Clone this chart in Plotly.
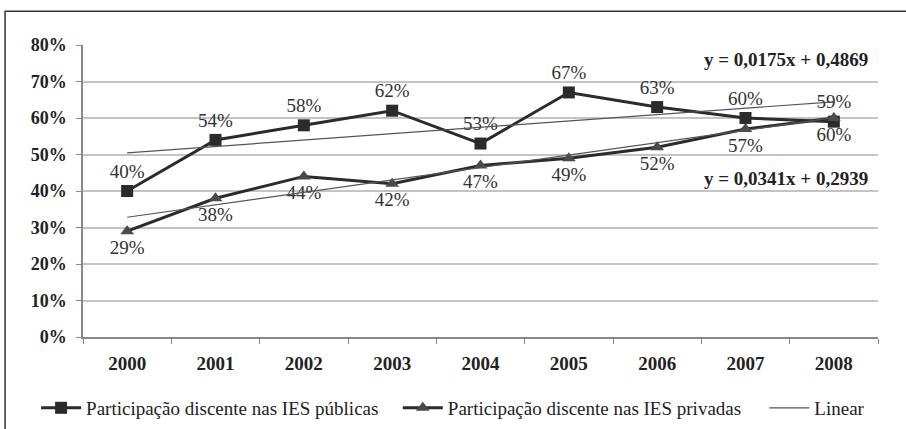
import plotly.graph_objects as go

years = ["2000", "2001", "2002", "2003", "2004", "2005", "2006", "2007", "2008"]
publicas = [40, 54, 58, 62, 53, 67, 63, 60, 59]
privadas = [29, 38, 44, 42, 47, 49, 52, 57, 60]
y_ticks = [0, 10, 20, 30, 40, 50, 60, 70, 80]
y_tick_labels = ["0%", "10%", "20%", "30%", "40%", "50%", "60%", "70%", "80%"]
# linear trend equations (x = 1..9)
trend_pub = [0.0175, 0.4869]
trend_priv = [0.0341, 0.2939]
eq_pub = "y = 0,0175x + 0,4869"
eq_priv = "y = 0,0341x + 0,2939"

serif = "Liberation Serif"
line_col = "#2b2b2b"

def trend(c):
    return [100 * (c[0] * (i + 1) + c[1]) for i in range(len(years))]

fig = go.Figure()
fig.add_trace(go.Scatter(
    x=years, y=publicas, name="Participação discente nas IES públicas", legend="legend",
    mode="lines+markers+text", text=[f"{v}%" for v in publicas], textposition="top center",
    textfont=dict(family=serif, size=19, color="#333"),
    line=dict(color=line_col, width=3), showlegend=True,
    marker=dict(symbol="square", size=12, color="#2b2b2b")))
fig.add_trace(go.Scatter(
    x=years, y=privadas, name="Participação discente nas IES privadas", legend="legend2",
    mode="lines+markers+text", text=[f"{v}%" for v in privadas], textposition="bottom center",
    textfont=dict(family=serif, size=19, color="#333"),
    line=dict(color=line_col, width=3), showlegend=True,
    marker=dict(symbol="triangle-up", size=12, color="#4a4a4a")))
fig.add_trace(go.Scatter(
    x=years, y=trend(trend_pub), name="Linear", mode="lines", legendgroup="lin", legend="legend3",
    line=dict(color="#555", width=1.2), showlegend=True))
fig.add_trace(go.Scatter(
    x=years, y=trend(trend_priv), name="Linear", mode="lines", legendgroup="lin", legend="legend3",
    line=dict(color="#555", width=1.2), showlegend=False))

fig.add_annotation(x=0.99, xref="paper", xanchor="right", y=76, yref="y", text=eq_pub,
                   showarrow=False, font=dict(family=serif, size=19, color="#222", weight="bold"))
fig.add_annotation(x=0.99, xref="paper", xanchor="right", y=43.5, yref="y", text=eq_priv,
                   showarrow=False, font=dict(family=serif, size=19, color="#222", weight="bold"))

# outer frame
fig.add_shape(type="rect", xref="paper", yref="paper", x0=-0.098, x1=1.2, y0=-0.5, y1=1.116,
              line=dict(color="#333", width=1.5), fillcolor="rgba(0,0,0,0)", layer="below")

leg_common = dict(orientation="h", xanchor="left", y=-0.243, yanchor="middle", itemwidth=40,
                  font=dict(family=serif, size=19, color="#222"), bgcolor="rgba(0,0,0,0)")
fig.update_layout(
    width=906, height=429, showlegend=True,
    margin=dict(l=83, r=28, t=45, b=92, autoexpand=False),
    paper_bgcolor="white", plot_bgcolor="white",
    font=dict(family=serif, color="#222"),
    legend=dict(x=-0.059, **leg_common),
    legend2=dict(x=0.396, **leg_common),
    legend3=dict(x=0.857, **leg_common),
)
fig.update_xaxes(type="category", range=[-0.5, 8.5], showgrid=False, automargin=False,
                 showline=True, linecolor="#888", linewidth=2,
                 ticks="outside", ticklen=5, tickcolor="#888", tickson="boundaries",
                 ticklabelstandoff=8,
                 tickfont=dict(family=serif, size=19, color="#222", weight="bold"))
fig.update_yaxes(range=[0, 80], tickvals=y_ticks, ticktext=y_tick_labels, automargin=False,
                 showgrid=True, gridcolor="#c4c4c4", gridwidth=1.5,
                 showline=True, linecolor="#888", linewidth=1.5,
                 ticks="outside", ticklen=5, tickcolor="#888", ticklabelstandoff=6,
                 tickfont=dict(family=serif, size=18, color="#222", weight="bold"),
                 zeroline=False)

fig.write_html("out.html", config={"displayModeBar": False},
               post_script="document.body.style.margin='0';")
